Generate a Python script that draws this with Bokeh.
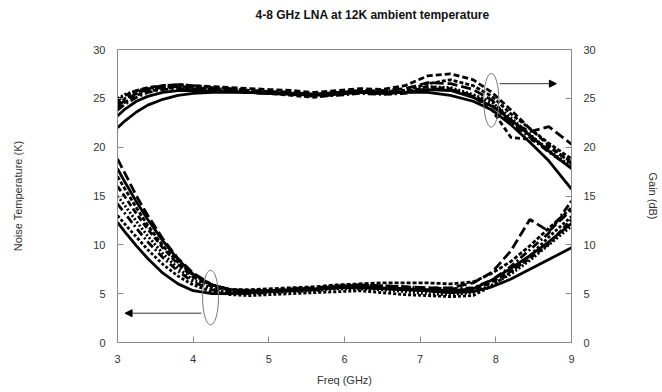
from bokeh.plotting import figure
from bokeh.models import Range1d, LinearAxis, FixedTicker, Arrow, NormalHead, Title
from bokeh.embed import file_html
from bokeh.resources import INLINE

TITLE = "4-8 GHz LNA at 12K ambient temperature"
X_LABEL = "Freq (GHz)"
Y_LEFT_LABEL = "Noise Temperature (K)"
Y_RIGHT_LABEL = "Gain (dB)"
X_TICKS = [3, 4, 5, 6, 7, 8, 9]
Y_TICKS = [0, 5, 10, 15, 20, 25, 30]

FREQ = [3.0, 3.1, 3.25, 3.4, 3.6, 3.8, 4.0, 4.25, 4.5, 4.75, 5.0, 5.3, 5.6,
        5.9, 6.2, 6.5, 6.8, 7.1, 7.4, 7.7, 7.95, 8.2, 8.45, 8.7, 9.0]

# Noise temperature (K) curves
noise_1 = [17.8, 16.4, 14.4, 12.6, 10.4, 8.5, 7.0, 5.9, 5.4, 5.3, 5.3, 5.4, 5.5, 5.6, 5.7, 5.6, 5.5, 5.4, 5.3, 5.5, 6.4, 7.6, 8.9, 10.3, 12.2]
noise_2 = [18.8, 17.3, 15.0, 13.0, 10.6, 8.6, 7.1, 5.9, 5.4, 5.2, 5.3, 5.5, 5.6, 5.7, 5.9, 5.8, 5.7, 5.6, 5.6, 6.1, 7.2, 9.4, 12.6, 11.4, 13.6]
noise_3 = [16.0, 14.9, 13.2, 11.6, 9.7, 8.0, 6.7, 5.7, 5.3, 5.2, 5.2, 5.4, 5.4, 5.6, 5.7, 5.6, 5.5, 5.3, 5.1, 5.3, 6.2, 7.3, 8.6, 10.1, 12.6]
noise_4 = [15.0, 14.0, 12.4, 10.9, 9.1, 7.6, 6.4, 5.5, 5.1, 5.0, 5.1, 5.2, 5.3, 5.5, 5.5, 5.4, 5.2, 5.0, 4.9, 5.1, 5.9, 7.0, 8.4, 10.0, 11.9]
noise_5 = [14.2, 13.2, 11.7, 10.3, 8.7, 7.3, 6.2, 5.4, 5.1, 5.0, 5.2, 5.4, 5.5, 5.8, 5.9, 5.8, 5.7, 5.6, 5.5, 5.6, 6.4, 7.8, 9.5, 11.2, 14.5]
noise_6 = [13.0, 12.1, 10.8, 9.5, 8.0, 6.8, 5.9, 5.2, 4.9, 4.8, 4.9, 5.0, 5.1, 5.2, 5.3, 5.1, 4.9, 4.8, 4.7, 4.8, 5.8, 7.2, 8.9, 10.8, 12.9]
noise_7 = [12.3, 11.3, 9.9, 8.6, 7.1, 6.0, 5.3, 5.0, 5.0, 5.1, 5.2, 5.3, 5.4, 5.6, 5.6, 5.5, 5.4, 5.3, 5.1, 5.2, 5.7, 6.5, 7.5, 8.5, 9.7]
noise_8 = [17.0, 15.7, 13.8, 12.0, 9.9, 8.2, 6.9, 5.8, 5.4, 5.4, 5.5, 5.6, 5.7, 5.9, 6.0, 6.1, 6.1, 6.1, 6.0, 6.2, 7.1, 8.3, 9.9, 11.7, 13.8]

# Gain (dB) curves
gain_1 = [22.0, 22.7, 23.6, 24.3, 24.9, 25.3, 25.5, 25.6, 25.6, 25.6, 25.5, 25.5, 25.4, 25.6, 25.7, 25.6, 25.6, 25.6, 25.3, 24.7, 23.8, 22.3, 20.5, 18.6, 15.7]
gain_2 = [24.8, 25.3, 25.8, 26.1, 26.3, 26.4, 26.3, 26.2, 26.1, 26.0, 25.9, 25.8, 25.6, 25.8, 26.0, 25.9, 26.3, 27.3, 27.5, 26.9, 25.6, 23.8, 21.9, 20.2, 18.3]
gain_3 = [24.2, 24.8, 25.5, 25.9, 26.1, 26.2, 26.1, 26.0, 25.9, 25.8, 25.7, 25.6, 25.4, 25.5, 25.7, 25.8, 26.0, 26.6, 26.5, 25.9, 24.8, 22.6, 21.6, 22.1, 20.3]
gain_4 = [24.0, 24.6, 25.3, 25.7, 26.0, 26.1, 26.0, 25.9, 25.8, 25.6, 25.5, 25.3, 25.1, 25.4, 25.6, 25.5, 25.6, 26.2, 26.0, 25.2, 23.8, 21.0, 20.8, 20.0, 18.5]
gain_5 = [25.0, 25.4, 25.8, 26.0, 26.2, 26.2, 26.1, 25.9, 25.8, 25.7, 25.6, 25.5, 25.3, 25.5, 25.6, 25.5, 25.7, 26.2, 26.1, 25.4, 24.6, 23.0, 21.3, 19.7, 18.0]
gain_6 = [23.8, 24.4, 25.1, 25.6, 25.9, 26.0, 25.9, 25.8, 25.7, 25.6, 25.5, 25.4, 25.2, 25.3, 25.5, 25.4, 25.5, 26.0, 25.9, 25.3, 24.3, 22.5, 21.0, 19.5, 17.9]
gain_7 = [23.2, 23.9, 24.7, 25.2, 25.6, 25.8, 25.8, 25.7, 25.7, 25.6, 25.5, 25.4, 25.3, 25.4, 25.6, 25.5, 25.6, 25.9, 25.8, 25.1, 24.2, 22.8, 21.2, 19.6, 17.8]
gain_8 = [24.5, 25.0, 25.6, 26.0, 26.3, 26.4, 26.3, 26.1, 26.0, 25.8, 25.7, 25.6, 25.4, 25.6, 25.8, 25.7, 25.8, 26.5, 26.9, 26.3, 25.2, 23.4, 21.9, 20.4, 18.8]

NOISE = [noise_1, noise_2, noise_3, noise_4, noise_5, noise_6, noise_7, noise_8]
GAIN = [gain_1, gain_2, gain_3, gain_4, gain_5, gain_6, gain_7, gain_8]

# Annotation markers (ellipse centres and arrows)
NOISE_MARK = dict(x=4.23, y=4.6, w=0.21, h=5.6, ax0=4.11, ax1=3.1, ay=3.0)
GAIN_MARK = dict(x=7.94, y=24.8, w=0.20, h=5.5, ax0=8.05, ax1=8.8, ay=26.5)

DASHES_NOISE = ["solid", "10 4", "6 3", "2 2", "8 3 2 3", "3 2", "solid", "4 2"]
DASHES_GAIN = ["solid", "6 3", "10 4", "5 3", "2 2", "8 3 2 3", "solid", "4 2"]

FONT = "Liberation Sans"
GRAY = "#8a8a8a"

p = figure(width=662, height=392, output_backend="svg", toolbar_location=None,
           x_range=Range1d(3, 9), y_range=Range1d(0, 30),
           min_border_left=117, min_border_right=91, min_border_top=49,
           min_border_bottom=50, title=None)
p.extra_y_ranges = {"gain": Range1d(0, 30)}

# spacer (nearest the frame) then the real title above it
p.add_layout(Title(text=" ", standoff=10, text_font=FONT, text_font_size="12px"), "above")
p.add_layout(Title(text=TITLE, align="left", offset=138, standoff=4,
                   text_font=FONT, text_font_size="12px", text_font_style="bold",
                   text_color="#111111"), "above")

p.grid.visible = False
p.outline_line_color = GRAY
p.outline_line_width = 1
p.background_fill_color = "white"
p.border_fill_color = "white"

right = LinearAxis(y_range_name="gain")
p.add_layout(right, "right")

for ax in [p.xaxis[0], p.yaxis[0], right]:
    ax.axis_line_color = GRAY
    ax.major_tick_line_color = GRAY
    ax.major_tick_in = 6
    ax.major_tick_out = 0
    ax.minor_tick_line_color = None
    ax.major_label_text_font = FONT
    ax.major_label_text_font_size = "11px"
    ax.major_label_text_color = "#333333"
    ax.major_label_standoff = 12
    ax.axis_label_text_font = FONT
    ax.axis_label_text_font_size = "11px"
    ax.axis_label_text_font_style = "normal"
    ax.axis_label_text_color = "#333333"

p.xaxis[0].ticker = FixedTicker(ticks=X_TICKS)
p.yaxis[0].ticker = FixedTicker(ticks=Y_TICKS)
right.ticker = FixedTicker(ticks=Y_TICKS)
p.xaxis[0].axis_label = X_LABEL
p.yaxis[0].axis_label = Y_LEFT_LABEL
right.axis_label = Y_RIGHT_LABEL
p.xaxis[0].axis_label_standoff = 8
p.yaxis[0].axis_label_standoff = 66
right.axis_label_standoff = 48

for vals, dash in zip(NOISE, DASHES_NOISE):
    p.line(FREQ, vals, line_color="black", line_width=2.8, line_dash=dash)
for vals, dash in zip(GAIN, DASHES_GAIN):
    p.line(FREQ, vals, line_color="black", line_width=2.8, line_dash=dash,
           y_range_name="gain")

for m, rng in [(NOISE_MARK, "default"), (GAIN_MARK, "gain")]:
    p.ellipse(x=[m["x"]], y=[m["y"]], width=m["w"], height=m["h"],
              fill_color=None, line_color="#777777", line_width=1,
              y_range_name=rng)
    p.add_layout(Arrow(end=NormalHead(size=7, fill_color="black", line_color="black"),
                       x_start=m["ax0"], y_start=m["ay"], x_end=m["ax1"], y_end=m["ay"],
                       line_color="#333333", line_width=1, y_range_name=rng))

open("out.html", "w").write(file_html(p, INLINE))
